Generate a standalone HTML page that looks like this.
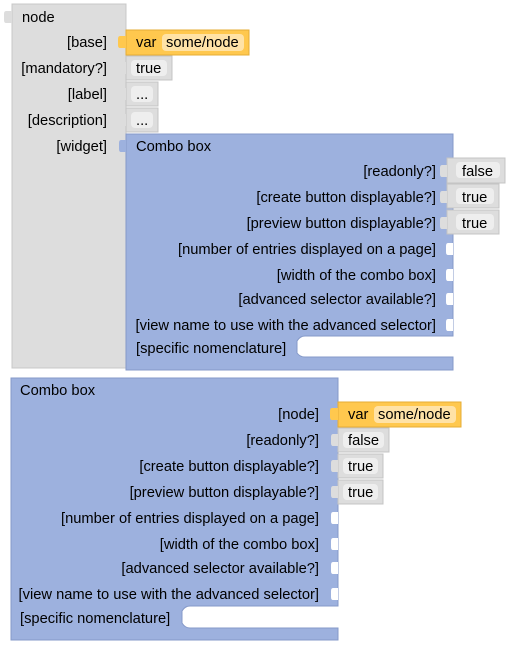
<!DOCTYPE html>
<html><head><style>
html,body{margin:0;padding:0;background:#fff;}
svg text{font-family:"Liberation Sans",Arial,sans-serif;font-size:14.7px;fill:#000;}
</style></head><body>
<svg width="508" height="647" viewBox="0 0 508 647" xmlns="http://www.w3.org/2000/svg">
<!-- grey node block -->
<rect x="12" y="4" width="114" height="364" fill="#dddddd" stroke="#c8c8c8" stroke-width="1"/>
<path d="M12,11 h-6 q-2,0 -2,3 v6 q0,3 2,3 h6 z" fill="#dddddd"/>
<text x="22" y="22">node</text>
<text x="107" y="47" text-anchor="end">[base]</text>
<text x="107" y="73" text-anchor="end">[mandatory?]</text>
<text x="107" y="99" text-anchor="end">[label]</text>
<text x="107" y="125" text-anchor="end">[description]</text>
<text x="107" y="151" text-anchor="end">[widget]</text>
<!-- var block 1 -->
<rect x="126" y="30" width="123" height="25" fill="#ffc84e" stroke="#e6ad35"/>
<path d="M126,36 h-6 q-2,0 -2,3 v6 q0,3 2,3 h6 z" fill="#ffc84e"/>
<text x="136" y="47">var</text>
<rect x="162" y="34" width="82" height="17" rx="4" fill="#ffe2a6"/>
<text x="166" y="47">some/node</text>
<!-- true -->
<rect x="126" y="56" width="46" height="24" fill="#dddddd" stroke="#c4c4c4"/>
<path d="M126,62 h-5 q-2,0 -2,3 v6 q0,3 2,3 h5 z" fill="#dddddd"/>
<rect x="131" y="60" width="36" height="16" rx="4" fill="#eee"/>
<text x="136" y="73">true</text>
<rect x="126" y="82" width="32" height="24" fill="#dddddd" stroke="#c4c4c4"/>
<path d="M126,88 h-5 q-2,0 -2,3 v6 q0,3 2,3 h5 z" fill="#dddddd"/>
<rect x="131" y="86" width="22" height="16" rx="4" fill="#eee"/>
<text x="136" y="99">...</text>
<rect x="126" y="108" width="32" height="24" fill="#dddddd" stroke="#c4c4c4"/>
<path d="M126,114 h-5 q-2,0 -2,3 v6 q0,3 2,3 h5 z" fill="#dddddd"/>
<rect x="131" y="112" width="22" height="16" rx="4" fill="#eee"/>
<text x="136" y="125">...</text>
<!-- combo box 1 -->
<path d="M126,134 H453 V336 H305 q-5,0 -8,5 V353 q3,4 8,4 H453 V370 H126 Z" fill="#9db1de" stroke="#8599c8"/>
<path d="M126,140 h-5 q-2,0 -2,3 v6 q0,3 2,3 h5 z" fill="#9db1de"/>
<text x="136" y="151">Combo box</text>
<text x="436" y="176" text-anchor="end">[readonly?]</text>
<text x="436" y="202" text-anchor="end">[create button displayable?]</text>
<text x="436" y="228" text-anchor="end">[preview button displayable?]</text>
<text x="436" y="254" text-anchor="end">[number of entries displayed on a page]</text>
<text x="436" y="280" text-anchor="end">[width of the combo box]</text>
<text x="436" y="304" text-anchor="end">[advanced selector available?]</text>
<text x="436" y="330" text-anchor="end">[view name to use with the advanced selector]</text>
<text x="136" y="353">[specific nomenclature]</text>
<g fill="#fff">
<path d="M453,243 h-5 q-2,0 -2,3 v6 q0,3 2,3 h5 z"/>
<path d="M453,269 h-5 q-2,0 -2,3 v6 q0,3 2,3 h5 z"/>
<path d="M453,293 h-5 q-2,0 -2,3 v6 q0,3 2,3 h5 z"/>
<path d="M453,319 h-5 q-2,0 -2,3 v6 q0,3 2,3 h5 z"/>
</g>
<rect x="447" y="158" width="58" height="25" fill="#dddddd" stroke="#c4c4c4"/>
<path d="M447,165 h-5 q-2,0 -2,3 v6 q0,3 2,3 h5 z" fill="#dddddd"/>
<rect x="456" y="162" width="44" height="16" rx="4" fill="#eee"/>
<text x="462" y="176">false</text>
<rect x="447" y="184" width="52" height="24" fill="#dddddd" stroke="#c4c4c4"/>
<path d="M447,191 h-5 q-2,0 -2,3 v6 q0,3 2,3 h5 z" fill="#dddddd"/>
<rect x="456" y="188" width="38" height="16" rx="4" fill="#eee"/>
<text x="462" y="202">true</text>
<rect x="447" y="210" width="52" height="24" fill="#dddddd" stroke="#c4c4c4"/>
<path d="M447,217 h-5 q-2,0 -2,3 v6 q0,3 2,3 h5 z" fill="#dddddd"/>
<rect x="456" y="214" width="38" height="16" rx="4" fill="#eee"/>
<text x="462" y="228">true</text>
<!-- combo box 2 -->
<path d="M11,378 H338 V606 H190 q-5,0 -8,5 V623 q3,5 8,5 H338 V640 H11 Z" fill="#9db1de" stroke="#8599c8"/>
<text x="20" y="395">Combo box</text>
<text x="319" y="419" text-anchor="end">[node]</text>
<text x="319" y="445" text-anchor="end">[readonly?]</text>
<text x="319" y="471" text-anchor="end">[create button displayable?]</text>
<text x="319" y="497" text-anchor="end">[preview button displayable?]</text>
<text x="319" y="523" text-anchor="end">[number of entries displayed on a page]</text>
<text x="319" y="549" text-anchor="end">[width of the combo box]</text>
<text x="319" y="573" text-anchor="end">[advanced selector available?]</text>
<text x="319" y="599" text-anchor="end">[view name to use with the advanced selector]</text>
<text x="20" y="623">[specific nomenclature]</text>
<g fill="#fff">
<path d="M338,512 h-5 q-2,0 -2,3 v6 q0,3 2,3 h5 z"/>
<path d="M338,538 h-5 q-2,0 -2,3 v6 q0,3 2,3 h5 z"/>
<path d="M338,562 h-5 q-2,0 -2,3 v6 q0,3 2,3 h5 z"/>
<path d="M338,588 h-5 q-2,0 -2,3 v6 q0,3 2,3 h5 z"/>
</g>
<rect x="338" y="402" width="123" height="25" fill="#ffc84e" stroke="#e6ad35"/>
<path d="M338,408 h-6 q-2,0 -2,3 v6 q0,3 2,3 h6 z" fill="#ffc84e"/>
<text x="348" y="419">var</text>
<rect x="374" y="406" width="82" height="17" rx="4" fill="#ffe2a6"/>
<text x="378" y="419">some/node</text>
<rect x="338" y="428" width="51" height="24" fill="#dddddd" stroke="#c4c4c4"/>
<path d="M338,434 h-5 q-2,0 -2,3 v6 q0,3 2,3 h5 z" fill="#dddddd"/>
<rect x="343" y="432" width="41" height="16" rx="4" fill="#eee"/>
<text x="348" y="445">false</text>
<rect x="338" y="454" width="45" height="24" fill="#dddddd" stroke="#c4c4c4"/>
<path d="M338,460 h-5 q-2,0 -2,3 v6 q0,3 2,3 h5 z" fill="#dddddd"/>
<rect x="343" y="458" width="35" height="16" rx="4" fill="#eee"/>
<text x="348" y="471">true</text>
<rect x="338" y="480" width="45" height="24" fill="#dddddd" stroke="#c4c4c4"/>
<path d="M338,486 h-5 q-2,0 -2,3 v6 q0,3 2,3 h5 z" fill="#dddddd"/>
<rect x="343" y="484" width="35" height="16" rx="4" fill="#eee"/>
<text x="348" y="497">true</text>
</svg>
</body></html>
